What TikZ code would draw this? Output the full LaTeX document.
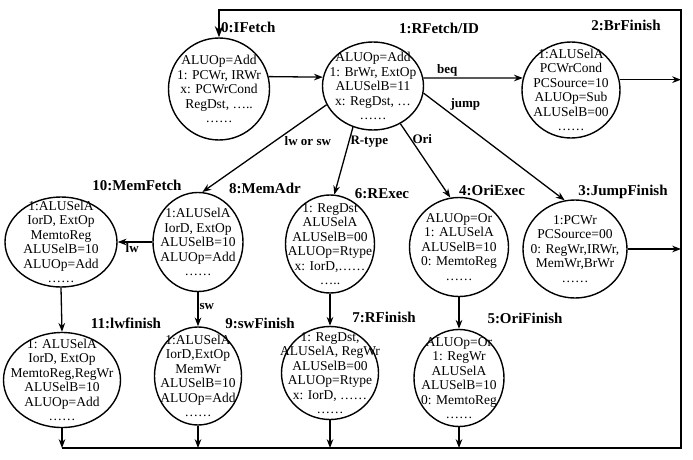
\documentclass[tikz,border=0pt]{standalone}
\usepackage{fontspec}
\setmainfont{Liberation Serif}
\usetikzlibrary{arrows.meta,shapes.geometric}

\tikzset{
  state/.style={draw, ellipse, line width=1.4pt, inner sep=0pt},
  stxt/.style={align=center, inner sep=0pt, font=\fontsize{13.5}{14.5}\selectfont},
  sname/.style={inner sep=1pt, font=\fontsize{15}{17}\selectfont\bfseries},
  elab/.style={inner sep=1pt, font=\fontsize{13}{15}\selectfont\bfseries},
  arr/.style={-Stealth, line width=1.3pt},
  bus/.style={line width=1.8pt}
}

\begin{document}
\begin{tikzpicture}[x=1pt,y=-1pt]
  \useasboundingbox (0,0) rectangle (693,460);

  % states
  \foreach \n/\x/\y/\w/\h in {s0/219/89/101/102, s1/373/86/101/88, s2/571/90/98/96,
      s10/61/242/112/90, s8/198/242/90/99, s6/330/244/89/98, s4/459/247/99/99,
      s3/575/249/104/98, s11/62/380/117/95, s9/198/376/87/98, s7/330/373/97/93,
      s5/459/378/90/97}
    \node[state, minimum width=\w, minimum height=\h] (\n) at (\x,\y) {};

  % state contents
  \node[stxt] (t0) at (s0) {ALUOp=Add\\1: PCWr, IRWr\\x: PCWrCond\\RegDst, …..\\……};
  \node[stxt] (t1) at (s1) {ALUOp=Add\\1: BrWr, ExtOp\\ALUSelB=11\\x: RegDst, …\\……};
  \node[stxt] (t2) at (s2) {1:ALUSelA\\PCWrCond\\PCSource=10\\ALUOp=Sub\\ALUSelB=00\\……};
  \node[stxt] (t10) at (s10) {1:ALUSelA\\IorD, ExtOp\\MemtoReg\\ALUSelB=10\\ALUOp=Add\\……};
  \node[stxt] (t8) at (s8) {1:ALUSelA\\IorD, ExtOp\\ALUSelB=10\\ALUOp=Add\\……};
  \node[stxt] (t6) at (s6) {1: RegDst\\ALUSelA\\ALUSelB=00\\ALUOp=Rtype\\x: IorD,……\\…..};
  \node[stxt] (t4) at (s4) {ALUOp=Or\\1: ALUSelA\\ALUSelB=10\\0: MemtoReg\\……};
  \node[stxt] (t3) at (s3) {1:PCWr\\PCSource=00\\0: RegWr,IRWr,\\MemWr,BrWr\\……};
  \node[stxt] (t11) at (s11) {1: ALUSelA\\IorD, ExtOp\\MemtoReg,RegWr\\ALUSelB=10\\ALUOp=Add\\……};
  \node[stxt] (t9) at (s9) {1:ALUSelA\\IorD,ExtOp\\MemWr\\ALUSelB=10\\ALUOp=Add\\……};
  \node[stxt] (t7) at (s7) {1: RegDst,\\ALUSelA, RegWr\\ALUSelB=00\\ALUOp=Rtype\\x: IorD, ……\\……};
  \node[stxt] (t5) at (s5) {ALUOp=Or\\1: RegWr\\ALUSelA\\ALUSelB=10\\0: MemtoReg\\……};

  % state names
  \node[sname, anchor=west] (n0) at (220,27) {0:IFetch};
  \node[sname] (n1) at (439,28) {1:RFetch/ID};
  \node[sname] (n2) at (626,25) {2:BrFinish};
  \node[sname] (n10) at (137,185) {10:MemFetch};
  \node[sname] (n8) at (265,188) {8:MemAdr};
  \node[sname] (n6) at (382,194) {6:RExec};
  \node[sname] (n4) at (492,190) {4:OriExec};
  \node[sname] (n3) at (623,192) {3:JumpFinish};
  \node[sname] (n11) at (126,323) {11:lwfinish};
  \node[sname] (n9) at (260,323) {9:swFinish};
  \node[sname] (n7) at (384,317) {7:RFinish};
  \node[sname] (n5) at (525,318) {5:OriFinish};

  % transitions
  \draw[arr] (s0.14) -- (s1.170);
  \draw[arr] (s1.9) -- node[elab, pos=.24, above] (lbeq) {beq} (s2.166);
  \draw[arr] (s1.-8) -- node[elab, pos=.18, anchor=south west] (ljump) {jump} (s3.102);
  \draw[arr] (s1.-54) -- node[elab, pos=.21, anchor=west] (lori) {Ori} (s4.100);
  \draw[arr] (s1.-116) -- node[elab, pos=.22, anchor=west] (lrt) {R-type} (s6.85);
  \draw[arr] (s1.-158) -- node[elab, pos=.35, anchor=north west] (lmem) {lw or sw} (s8.85);
  \draw[arr] (s8) -- node[elab, pos=.58, below] (llw) {lw} (s10);
  \draw[arr] (s8.south) -- node[elab, pos=.41, anchor=west] (lsw) {sw} (s9.north);
  \draw[arr] (s10.south) -- (s11.north);
  \draw[arr] (s6.south) -- (s7.north);
  \draw[arr] (s4.south) -- (s5.north);

  % return bus
  \coordinate (bl) at (62,448);
  \coordinate (br) at (681,448);
  \coordinate (tr) at (681,10);
  \coordinate (tl) at (s0.north |- tr);
  \draw[bus, -Stealth] (bl) -- (br) -- (tr) -- (tl) -- (s0.north);
  \foreach \n in {s11,s9,s7,s5}
    \draw[arr] (\n.south) -- (\n.south |- bl);
  \draw[arr] (s2.12) -- (s2.12 -| tr);
  \draw[arr] (s3.east) -- (s3.east -| tr);
\end{tikzpicture}
\end{document}
